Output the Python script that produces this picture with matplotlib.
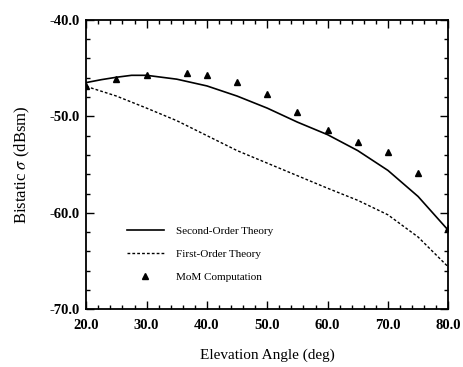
import numpy as np
import matplotlib.pyplot as plt
from matplotlib.ticker import MultipleLocator, FormatStrFormatter

plt.rcParams['font.family'] = ['Liberation Serif', 'DejaVu Serif']
plt.rcParams['mathtext.fontset'] = 'stix'

# second-order theory
ang2 = [20, 22.5, 25, 27.5, 30, 35, 40, 45, 50, 55, 60, 65, 70, 75, 80]
sig2 = [-46.5, -46.2, -45.95, -45.75, -45.75, -46.15, -46.85, -47.9, -49.15,
        -50.6, -51.9, -53.55, -55.6, -58.3, -61.8]

# first-order theory
ang1 = [20, 25, 30, 35, 40, 45, 50, 55, 60, 65, 70, 75, 80]
sig1 = [-46.9, -47.9, -49.15, -50.45, -52.0, -53.55, -54.85, -56.15, -57.45,
        -58.7, -60.2, -62.5, -65.6]

# method of moments
ang_mom = [20, 25, 30, 36.7, 40, 45, 50, 55, 60, 65, 70, 75, 80]
sig_mom = [-46.9, -46.15, -45.7, -45.5, -45.75, -46.4, -47.7, -49.5, -51.4,
           -52.65, -53.65, -55.85, -61.6]

fig = plt.figure(figsize=(4.64, 3.67), dpi=100)
ax = fig.add_axes([0.186, 0.157, 0.780, 0.789])

ax.plot(ang2, sig2, color='black', lw=1.2, label='Second-Order Theory')
ax.plot(ang1, sig1, color='black', lw=1.0, dashes=(2, 1.5),
        label='First-Order Theory')
ax.plot(ang_mom, sig_mom, linestyle='none', marker='^', color='black',
        markersize=5, label='MoM Computation')

ax.set_xlim(20, 80)
ax.set_ylim(-70, -40)
ax.xaxis.set_major_locator(MultipleLocator(10))
ax.xaxis.set_minor_locator(MultipleLocator(2))
ax.yaxis.set_major_locator(MultipleLocator(10))
ax.yaxis.set_minor_locator(MultipleLocator(2))
ax.xaxis.set_major_formatter(FormatStrFormatter('%.1f'))
ax.yaxis.set_major_formatter(FormatStrFormatter('%.1f'))
ax.tick_params(which='both', direction='in', top=True, right=True, width=1)
ax.tick_params(which='major', length=6, labelsize=10.5)
ax.tick_params(axis='x', which='major', pad=7)
ax.tick_params(axis='y', which='major', pad=5)
ax.tick_params(which='minor', length=3)
for lab in ax.get_xticklabels() + ax.get_yticklabels():
    lab.set_fontweight('bold')
for sp in ax.spines.values():
    sp.set_linewidth(1.3)

ax.set_xlabel('Elevation Angle (deg)', fontsize=11, labelpad=12)
ax.set_ylabel(r'Bistatic $\sigma$ (dBsm)', fontsize=12, labelpad=12)

ax.legend(loc='lower left', bbox_to_anchor=(0.085, 0.06), frameon=False,
          fontsize=8, handlelength=3.3, handletextpad=1.1, labelspacing=1.2)

fig.savefig('out.png', dpi=100)
